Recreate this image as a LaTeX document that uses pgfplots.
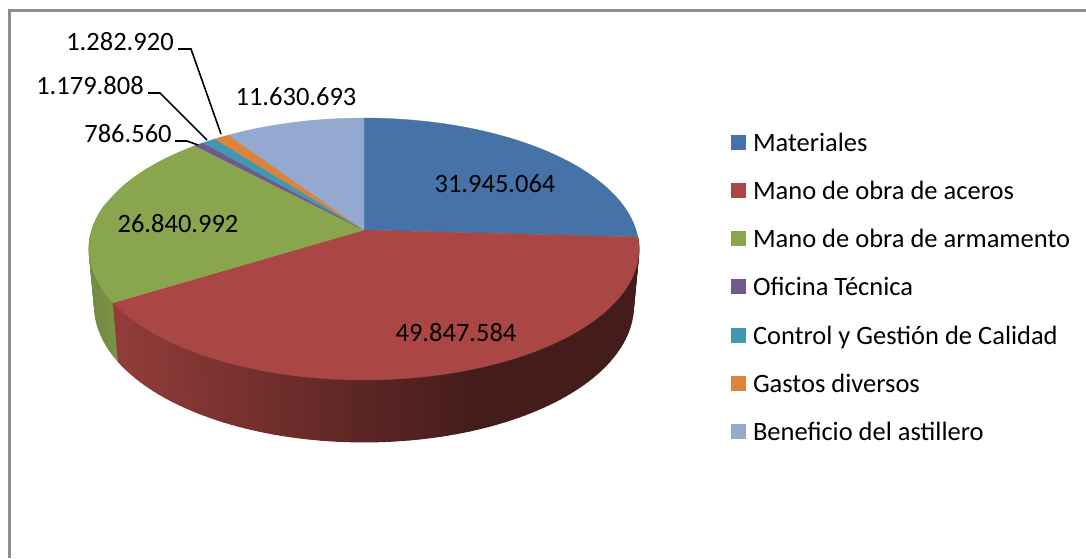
\documentclass[border=0pt]{standalone}
\usepackage{pgfplots}
\usepackage{pgfplotstable}
\pgfplotsset{compat=1.18}
\usepackage{fontspec}
\setmainfont{Carlito}

\definecolor{materiales}{HTML}{4572A7}
\definecolor{aceros}{HTML}{AA4643}
\definecolor{armamento}{HTML}{89A54E}
\definecolor{oficina}{HTML}{71588F}
\definecolor{calidad}{HTML}{4198AF}
\definecolor{gastos}{HTML}{DB843D}
\definecolor{beneficio}{HTML}{93A9CF}
\definecolor{marco}{HTML}{8E8E8E}

% Budget items, in euros
\pgfplotstableread{
value
31945064
49847584
26840992
786560
1179808
1282920
11630693
}\presupuesto

% Sum of the items and the boundary angle of every slice, clockwise from 90 degrees
\newcount\piesum
\piesum=0
\pgfplotsforeachungrouped \row in {0,...,6}{%
  \pgfplotstablegetelem{\row}{value}\of\presupuesto
  \global\advance\piesum by \pgfplotsretval\relax
}
\newcount\piecum
\piecum=0
\expandafter\gdef\csname bnd0\endcsname{90}
\pgfplotsforeachungrouped \row in {0,...,6}{%
  \pgfplotstablegetelem{\row}{value}\of\presupuesto
  \global\advance\piecum by \numexpr 360000*\pgfplotsretval/\piesum\relax
  \edef\piewhole{\the\numexpr\piecum/1000\relax}%
  \edef\piefrac{\the\numexpr\piecum-\piewhole*1000\relax}%
  \pgfmathsetmacro\bndval{90-\piewhole-\piefrac/1000}%
  \pgfmathtruncatemacro\nextrow{\row+1}%
  \expandafter\xdef\csname bnd\nextrow\endcsname{\bndval}%
}
\newcommand\bnd[1]{\csname bnd#1\endcsname}

% Perspective projection of the pie's rim: top face in \px,\py, bottom face in \qx,\qy
\newcommand\rimpoint[1]{%
  \pgfmathsetmacro\rimw{1+0.145*sin(#1)}%
  \pgfmathsetmacro\px{364+272*cos(#1)/\rimw}%
  \pgfmathsetmacro\py{230-128.2*sin(#1)/\rimw}%
  \pgfmathsetmacro\qx{364+0.98*(\px-364)}%
  \pgfmathsetmacro\qy{230+1.04*(\py-230)+56}%
}

% Top face of one slice, from angle #1 down to angle #2
\newcommand\topslice[3]{%
  \gdef\slicepts{(364,230)}%
  \pgfmathtruncatemacro\nseg{ceil(abs(#1-(#2)))+1}%
  \foreach \i in {0,...,\nseg}{%
    \pgfmathsetmacro\t{#1+((#2)-(#1))/\nseg*\i}%
    \rimpoint{\t}%
    \xdef\slicepts{\slicepts (\px,\py)}%
  }%
  \edef\temp{\noexpand\addplot[fill=#3,draw=#3,line width=0.3pt,forget plot] coordinates {\slicepts (364,230)};}%
  \temp
}

% Outer wall of a slice, in narrow strips; #4 gives the brightness in per cent at x position \sx
\newcommand\wallstrips[4]{%
  \pgfmathtruncatemacro\nseg{ceil(abs(#1-(#2))/1.5)+1}%
  \pgfmathtruncatemacro\nlast{\nseg-1}%
  \foreach \i in {0,...,\nlast}{%
    \pgfmathsetmacro\ta{#1+((#2)-(#1))/\nseg*\i}%
    \pgfmathsetmacro\tb{#1+((#2)-(#1))/\nseg*(\i+1)}%
    \rimpoint{\ta}%
    \edef\ax{\px}\edef\ay{\py}\edef\bx{\qx}\edef\by{\qy}%
    \rimpoint{\tb}%
    \pgfmathsetmacro\sx{(\ax+\px)/2}%
    \pgfmathsetmacro\bright{#4}%
    \edef\temp{\noexpand\addplot[fill=#3!\bright!black,draw=#3!\bright!black,line width=1pt,line join=round,forget plot]
      coordinates {(\ax,\ay) (\px,\py) (\qx,\qy) (\bx,\by) (\ax,\ay)};}%
    \temp
  }%
}

\begin{document}
\begin{tikzpicture}
\begin{axis}[
  scale only axis, width=1086pt, height=558pt,
  xmin=0, xmax=1086, ymin=0, ymax=558, y dir=reverse,
  hide axis,
  legend image code/.code={\path[#1] (0pt,-3pt) rectangle (15pt,12pt);},
  legend cell align=left,
  legend style={
    at={(axis cs:731,133)}, anchor=north west,
    draw=none, fill=none, inner sep=0pt, outer sep=0pt,
    font=\fontsize{26.5}{30}\selectfont,
    row sep=21.25pt,
    nodes={inner sep=0pt, outer sep=0pt, text height=18pt, text depth=9pt},
    /tikz/column 2/.style={column sep=0pt},
    /tikz/column 1/.style={column sep=7pt},
  },
]
  % Page background and chart frame
  \addplot[fill=white,draw=white,forget plot] coordinates {(0,0) (1086,0) (1086,558) (0,558) (0,0)};
  \addplot[draw=marco,line width=2.1pt,forget plot] coordinates {(9.5,558) (9.5,10.5) (1086,10.5)};

  % Outer walls, then the top faces
  \wallstrips{\bnd{2}}{-192}{armamento}{90-(118-\sx)*0.2}
  \wallstrips{\bnd{1}}{\bnd{2}}{aceros}{\sx<200 ? 86-(\sx-115)*0.13 : (\sx<380 ? 75-(\sx-200)*0.128 : (\sx<480 ? 52-(\sx-380)*0.12 : 40))}

  \topslice{\bnd{0}}{\bnd{1}}{materiales}
  \topslice{\bnd{1}}{\bnd{2}}{aceros}
  \topslice{\bnd{2}}{\bnd{3}}{armamento}
  \topslice{\bnd{3}}{\bnd{4}}{oficina}
  \topslice{\bnd{4}}{\bnd{5}}{calidad}
  \topslice{\bnd{5}}{\bnd{6}}{gastos}
  \topslice{\bnd{6}}{\bnd{7}}{beneficio}

  % Leader lines of the small slices
  \addplot[black,line width=1.6pt,forget plot] coordinates {(178,49) (191,49) (221,134)};
  \addplot[black,line width=1.6pt,forget plot] coordinates {(148,93) (160,93) (207,140)};
  \addplot[black,line width=1.6pt,forget plot] coordinates {(175,141) (187,141) (198,145)};

  % Value labels
  \begin{scope}[every node/.style={font=\fontsize{26.5}{30}\selectfont,inner sep=0pt,text=black}]
    \node at (axis cs:495,184) {31.945.064};
    \node at (axis cs:456,333) {49.847.584};
    \node at (axis cs:178,224) {26.840.992};
    \node at (axis cs:296,97) {11.630.693};
    \node at (axis cs:128,134) {786.560};
    \node at (axis cs:90,86) {1.179.808};
    \node at (axis cs:120,42) {1.282.920};
  \end{scope}

  % Legend
  \addlegendimage{fill=materiales,draw=none}\addlegendentry{Materiales}
  \addlegendimage{fill=aceros,draw=none}\addlegendentry{Mano de obra de aceros}
  \addlegendimage{fill=armamento,draw=none}\addlegendentry{Mano de obra de armamento}
  \addlegendimage{fill=oficina,draw=none}\addlegendentry{Oficina Técnica}
  \addlegendimage{fill=calidad,draw=none}\addlegendentry{Control y Gestión de Calidad}
  \addlegendimage{fill=gastos,draw=none}\addlegendentry{Gastos diversos}
  \addlegendimage{fill=beneficio,draw=none}\addlegendentry{Beneficio del astillero}
\end{axis}
\end{tikzpicture}
\end{document}
